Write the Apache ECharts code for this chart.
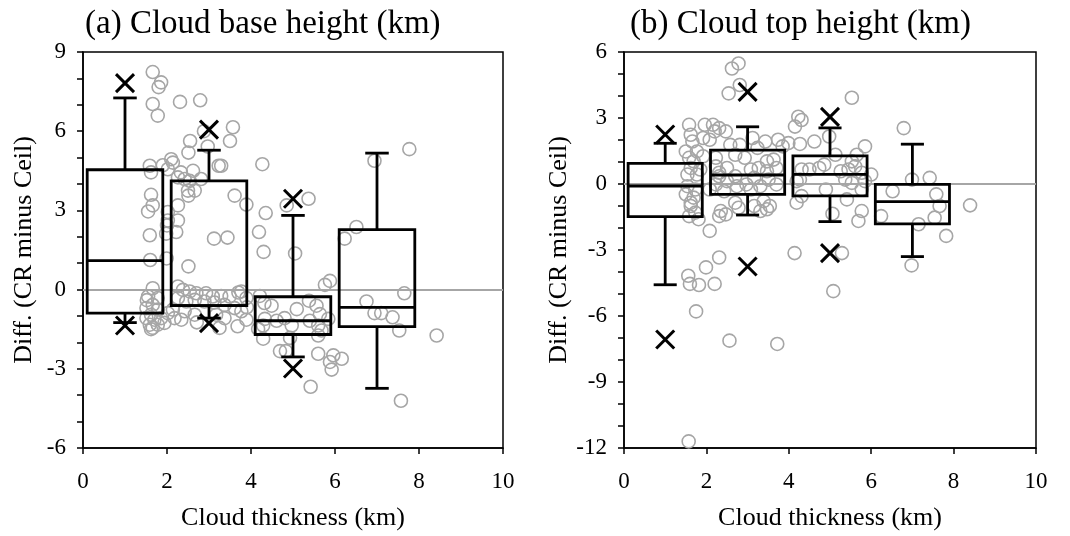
<!DOCTYPE html>
<html><head><meta charset="utf-8">
<script src="https://cdn.jsdelivr.net/npm/echarts@6/dist/echarts.min.js"></script>
<style>html,body{margin:0;padding:0;background:#fff}#c{width:1070px;height:536px}</style>
</head><body><div id="c"></div>
<script>
// ---------- data ----------
const xTicks = [0, 2, 4, 6, 8, 10];
const boxCenters = [1, 3, 5, 7];

// (a) Cloud base height
const baseQ1 = [-0.89, -0.61, -1.70, -1.40];
const baseMedian = [1.10, -0.61, -1.18, -0.67];
const baseQ3 = [4.54, 4.12, -0.27, 2.27];
const baseWhiskerLow = [-1.25, -1.08, -2.55, -3.74];
const baseWhiskerHigh = [7.26, 5.28, 2.81, 5.17];
const baseCrosses = [[1, 7.82], [1, -1.36], [3, 6.06], [3, -1.27], [5, 3.44], [5, -2.99]];
const basePoints = [
[1.66,8.24],[1.86,7.85],[1.80,7.67],[1.66,7.03],[1.78,6.59],[2.31,7.11],[2.79,7.17],[3.57,6.15],[3.50,5.63],[2.88,6.0],
[2.55,5.63],[2.97,5.42],[2.51,5.19],[3.23,4.69],[3.29,4.69],[4.27,4.75],[1.59,4.69],[1.62,4.44],[2.10,4.94],[2.14,4.81],
[2.02,4.56],[1.90,4.71],[2.33,4.44],[2.62,4.50],[2.26,4.25],[2.42,4.19],[2.54,4.12],[2.81,4.19],[2.50,3.75],[2.66,3.75],
[2.51,3.56],[1.62,3.59],[1.66,3.19],[1.55,2.96],[2.26,3.19],[2.02,2.94],[2.26,2.62],[2.02,2.62],[2.00,2.43],[2.22,2.18],
[1.98,2.12],[1.59,2.06],[3.61,3.56],[3.89,3.22],[4.35,2.90],[4.19,2.18],[3.12,1.93],[3.44,1.97],[4.30,1.43],[4.85,3.19],
[5.37,3.44],[5.05,1.37],[6.23,1.93],[6.51,2.37],[6.94,4.88],[7.77,5.32],[1.60,1.12],[1.99,1.18],[2.51,0.88],
[1.66,0.05],[1.55,-0.26],[1.78,-0.32],[1.66,-0.58],[1.51,-0.70],[1.78,-0.76],[1.62,-0.95],[1.51,-1.08],[1.70,-1.14],[1.86,-1.08],
[1.59,-1.33],[1.78,-1.33],[1.66,-1.45],[1.94,-1.26],[2.02,-0.89],[2.14,-0.76],[2.18,-1.08],[1.52,-0.40],[1.62,-1.50],
[2.26,0.12],[2.38,-0.01],[2.54,-0.07],[2.70,-0.14],[2.93,-0.14],[3.09,-0.26],[3.29,-0.24],[3.49,-0.26],[3.77,-0.07],[3.89,-0.32],
[2.26,-0.32],[2.46,-0.45],[2.66,-0.39],[2.89,-0.45],[3.13,-0.49],[3.37,-0.58],[3.61,-0.70],[3.77,-0.82],[3.17,-0.95],[3.37,-1.08],
[3.68,-1.39],[3.89,-1.14],[2.66,-0.95],[2.42,-0.82],[2.34,-1.14],[3.25,-1.45],[3.70,-0.11],[3.90,-0.67],[2.71,-1.24],
[4.21,-0.24],[4.49,-0.61],[5.09,-0.74],[5.38,-0.42],[5.56,-0.61],[5.64,-0.93],[5.40,-1.18],[4.97,-1.36],[4.61,-1.18],[4.33,-1.11],
[4.29,-1.36],[4.17,-1.49],[5.60,-1.36],[5.68,-1.55],[5.60,-1.74],[5.84,-1.11],[4.29,-1.86],[4.69,-2.33],[4.83,-2.33],[5.60,-2.43],
[5.96,-2.49],[6.16,-2.62],[5.88,-2.74],[5.92,-3.03],[5.42,-3.68],[4.32,-0.51],[4.80,-1.08],[4.93,-1.83],[5.88,0.33],[5.76,0.18],
[7.65,-0.14],[6.75,-0.45],[6.94,-0.89],[7.10,-0.89],[7.37,-1.05],[7.53,-1.55],[8.42,-1.74],[7.57,-4.21]
];

// (b) Cloud top height
const topQ1 = [-1.48, -0.47, -0.54, -1.81];
const topMedian = [-0.09, 0.41, 0.44, -0.80];
const topQ3 = [0.94, 1.54, 1.28, -0.02];
const topWhiskerLow = [-4.58, -1.41, -1.71, -3.30];
const topWhiskerHigh = [1.85, 2.60, 2.55, 1.81];
const topCrosses = [[1, 2.25], [1, -7.07], [3, 4.19], [3, -3.75], [5, 3.05], [5, -3.14]];
const topPoints = [
[2.62,5.25],[2.78,5.48],[2.81,4.50],[2.54,4.12],[1.58,2.69],[1.96,2.69],[2.16,2.69],[2.31,2.54],[2.47,2.39],[2.20,2.39],
[1.62,2.24],[1.66,1.93],[1.92,2.09],[2.08,2.01],[3.12,2.09],[3.43,1.93],[3.74,2.01],[2.58,1.78],[2.81,1.78],[3.24,1.64],
[3.85,1.71],[1.77,1.48],[1.50,1.48],[1.92,1.26],[1.58,1.19],[1.69,1.03],[2.23,1.19],[2.70,1.33],[2.93,1.19],[3.47,1.03],
[3.63,1.11],[1.62,0.73],[1.85,0.66],[2.23,0.80],[2.31,0.51],[2.50,0.73],[3.08,0.66],[3.27,0.73],[3.47,0.58],[3.70,0.73],
[1.54,0.43],[1.77,0.43],[2.31,0.35],[2.70,0.35],[3.16,0.28],[3.51,0.20],[3.70,-0.02],[1.54,-0.10],[1.73,-0.25],[1.50,-0.47],
[1.69,-0.62],[2.23,-0.02],[2.50,0.13],[2.74,-0.10],[2.97,-0.02],[3.31,-0.10],[2.08,-0.25],[2.43,-0.33],[3.08,-0.25],[1.62,-1.00],
[1.62,-0.85],[1.73,-1.30],[1.81,-1.60],[1.58,-1.46],[2.35,-1.23],[2.47,-1.38],[2.31,-1.46],[2.70,-0.85],[2.78,-1.08],[3.16,-1.00],
[3.31,-1.23],[3.47,-1.15],[3.54,-1.00],[3.39,-0.78],[2.08,-2.13],
[2.31,-3.34],[1.99,-3.79],[1.56,-4.17],[1.60,-4.54],[1.82,-4.59],[2.20,-4.54],[1.75,-5.79],[2.56,-7.12],[3.72,-7.27],[1.57,-11.70],
[4.14,-3.14],[5.08,-4.87],[5.29,-3.14],
[5.53,3.92],[4.23,3.06],[4.31,2.91],[4.15,2.61],[4.98,2.16],[4.62,1.93],[4.27,1.82],[3.99,1.86],[5.85,1.71],[5.65,1.33],
[5.53,1.03],[5.13,1.33],[4.31,0.66],[4.50,0.66],[4.74,0.73],[4.86,0.88],[5.26,0.58],[5.45,0.66],[5.61,0.80],[5.77,0.51],
[4.27,0.20],[4.19,0.13],[5.37,0.20],[5.53,0.05],[5.85,0.13],[6.00,0.43],[4.90,-0.25],[4.31,-0.55],[4.19,-0.85],[5.41,-0.70],
[5.77,-0.25],[5.06,-1.35],[5.77,-1.23],[5.69,-1.68],[6.79,2.54],[6.99,0.20],[7.42,0.28],[6.52,-0.33],[7.58,-0.47],[6.24,-1.46],
[7.15,-1.83],[7.66,-1.00],[7.54,-1.53],[7.82,-2.36],[8.40,-0.97],[6.98,-3.70]
];

// ---------- chart ----------
const FONT = 'Liberation Serif';
const BOX_HALF = 0.9, CAP_HALF = 0.28, CROSS = 9;

function boxData(q1, med, q3, lo, hi) {
  return boxCenters.map((c, i) => [c, q1[i], med[i], q3[i], lo[i], hi[i]]);
}
function renderBox(params, api) {
  const x = api.value(0), q1 = api.value(1), med = api.value(2), q3 = api.value(3), lo = api.value(4), hi = api.value(5);
  const tl = api.coord([x - BOX_HALF, q3]), br = api.coord([x + BOX_HALF, q1]);
  const mL = api.coord([x - BOX_HALF, med]), mR = api.coord([x + BOX_HALF, med]);
  const cT = api.coord([x, q3]), cH = api.coord([x, hi]), cB = api.coord([x, q1]), cL = api.coord([x, lo]);
  const capHL = api.coord([x - CAP_HALF, hi]), capHR = api.coord([x + CAP_HALF, hi]);
  const capLL = api.coord([x - CAP_HALF, lo]), capLR = api.coord([x + CAP_HALF, lo]);
  const st = {stroke: '#000', lineWidth: 2.8, fill: null};
  const line = (a, b) => ({type: 'line', shape: {x1: a[0], y1: a[1], x2: b[0], y2: b[1]}, style: st});
  return {type: 'group', children: [
    {type: 'rect', shape: {x: tl[0], y: tl[1], width: br[0] - tl[0], height: br[1] - tl[1]}, style: {stroke: '#000', lineWidth: 2.8, fill: null}},
    line(mL, mR), line(cT, cH), line(capHL, capHR), line(cB, cL), line(capLL, capLR)
  ]};
}
function renderCross(params, api) {
  const p = api.coord([api.value(0), api.value(1)]);
  const st = {stroke: '#000', lineWidth: 3};
  return {type: 'group', children: [
    {type: 'line', shape: {x1: p[0] - CROSS, y1: p[1] - CROSS, x2: p[0] + CROSS, y2: p[1] + CROSS}, style: st},
    {type: 'line', shape: {x1: p[0] - CROSS, y1: p[1] + CROSS, x2: p[0] + CROSS, y2: p[1] - CROSS}, style: st}
  ]};
}

const axisLineStyle = {color: '#000', width: 1.5};
function xAxis(idx) {
  return {
    type: 'value', gridIndex: idx, min: xTicks[0], max: xTicks[xTicks.length - 1], interval: 2,
    axisLine: {show: true, onZero: false, lineStyle: axisLineStyle},
    axisTick: {show: true, inside: false, length: 6, lineStyle: axisLineStyle},
    axisLabel: {color: '#000', fontSize: 23, fontFamily: FONT, margin: 22},
    splitLine: {show: false},
    name: 'Cloud thickness (km)', nameLocation: 'middle', nameGap: 57,
    nameTextStyle: {color: '#000', fontSize: 26, fontFamily: FONT}
  };
}
function yAxis(idx, min, max) {
  return {
    type: 'value', gridIndex: idx, min: min, max: max, interval: 3,
    axisLine: {show: true, onZero: false, lineStyle: axisLineStyle},
    axisTick: {show: true, inside: false, length: 6, lineStyle: axisLineStyle},
    minorTick: {show: true, splitNumber: 3, length: 6, lineStyle: axisLineStyle},
    axisLabel: {color: '#000', fontSize: 23, fontFamily: FONT, margin: 17},
    splitLine: {show: false},
    name: 'Diff. (CR minus Ceil)', nameLocation: 'middle', nameGap: 46,
    nameTextStyle: {color: '#000', fontSize: 26, fontFamily: FONT}
  };
}
function scatter(idx, pts) {
  return {
    type: 'scatter', xAxisIndex: idx, yAxisIndex: idx, data: pts, symbol: 'circle', symbolSize: 13,
    itemStyle: {color: 'rgba(255,255,255,0)', borderColor: '#a6a6a6', borderWidth: 1.6, opacity: 1},
    emphasis: {disabled: true}, silent: true, z: 2,
    markLine: {silent: true, symbol: ['none', 'none'], label: {show: false},
      lineStyle: {color: '#a6a6a6', width: 2, type: 'solid'}, data: [{yAxis: 0}]}
  };
}

const chart = echarts.init(document.getElementById('c'), null, {renderer: 'canvas'});
chart.setOption({
  animation: false,
  backgroundColor: '#fff',
  title: [
    {text: '(a) Cloud base height (km)', left: 80, top: 3, textStyle: {color: '#000', fontSize: 33, fontWeight: 'normal', fontFamily: FONT}},
    {text: '(b) Cloud top height (km)', left: 625, top: 3, textStyle: {color: '#000', fontSize: 33, fontWeight: 'normal', fontFamily: FONT}}
  ],
  grid: [
    {left: 83, top: 52, width: 420, height: 399, show: true, borderColor: '#000', borderWidth: 1.5, backgroundColor: 'transparent'},
    {left: 624, top: 52, width: 412, height: 398, show: true, borderColor: '#000', borderWidth: 1.5, backgroundColor: 'transparent'}
  ],
  xAxis: [xAxis(0), xAxis(1)],
  yAxis: [yAxis(0, -6, 9), yAxis(1, -12, 6)],
  series: [
    scatter(0, basePoints),
    scatter(1, topPoints),
    {type: 'custom', xAxisIndex: 0, yAxisIndex: 0, renderItem: renderBox, data: boxData(baseQ1, baseMedian, baseQ3, baseWhiskerLow, baseWhiskerHigh), encode: {x: 0, y: [1, 2, 3, 4, 5]}, z: 5, silent: true},
    {type: 'custom', xAxisIndex: 1, yAxisIndex: 1, renderItem: renderBox, data: boxData(topQ1, topMedian, topQ3, topWhiskerLow, topWhiskerHigh), encode: {x: 0, y: [1, 2, 3, 4, 5]}, z: 5, silent: true},
    {type: 'custom', xAxisIndex: 0, yAxisIndex: 0, renderItem: renderCross, data: baseCrosses, encode: {x: 0, y: 1}, z: 6, silent: true},
    {type: 'custom', xAxisIndex: 1, yAxisIndex: 1, renderItem: renderCross, data: topCrosses, encode: {x: 0, y: 1}, z: 6, silent: true}
  ]
});
</script></body></html>
